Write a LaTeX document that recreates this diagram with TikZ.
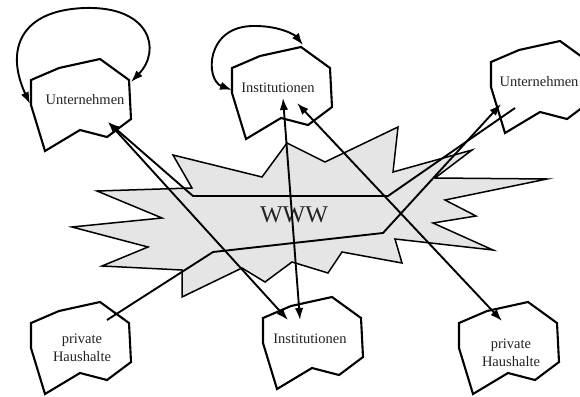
\documentclass[tikz,border=0pt]{standalone}
\usepackage{fontspec}
\setmainfont{Liberation Serif}
\usetikzlibrary{arrows.meta,calc}
\definecolor{txtgray}{HTML}{222222}
\tikzset{
  blobline/.style={line width=2.1pt},
  burstline/.style={line width=1.5pt, fill=black!10},
  link/.style={line width=1.9pt},
  tipend/.style={-{Latex[length=12pt,width=8.5pt]}},
  tipboth/.style={{Latex[length=12pt,width=8.5pt]}-{Latex[length=12pt,width=8.5pt]}},
  lbl/.style={text=txtgray, font=\fontsize{14.5}{18}\selectfont, align=center},
  blob/.pic={\draw[blobline] (0,0) -- (0,25) -- (14,71) -- (49,50) -- (76,57)
     -- (100,39) -- (98,0) -- (69,-21) -- (28,-12) -- cycle;}
}

\begin{document}
\begin{tikzpicture}[x=1pt,y=-1pt]
  \clip (0,0) rectangle (580,396);

  % the net in the middle
  \draw[burstline] (173,155) -- (262,177) -- (287,143) -- (325,162) -- (398,127)
    -- (393,172) -- (472,150) -- (435,178) -- (547,179) -- (445,200) -- (476,216)
    -- (433,223) -- (493,250) -- (395,239) -- (402,263) -- (342,252) -- (328,273)
    -- (292,262) -- (265,282) -- (242,268) -- (182,297) -- (182,270) -- (102,266)
    -- (148,247) -- (72,227) -- (162,218) -- (97,191) -- (192,188) -- cycle;
  \node[text=txtgray, font=\fontsize{24}{28}\selectfont] (www) at (294,215) {WWW};

  % the six actors
  \pic at (31,80) {blob};
  \pic at (232,68) {blob};
  \pic at (491,62) {blob};
  \pic at (31,323) {blob};
  \pic at (263,318) {blob};
  \pic at (459,323) {blob};
  \node[lbl] (untL) at (85,100) {Unternehmen};
  \node[lbl] (instT) at (278,88) {Institutionen};
  \node[lbl] (untR) at (539,82) {Unternehmen};
  \node[lbl] (hhL) at (82,348) {private\\Haushalte};
  \node[lbl] (instB) at (310,339) {Institutionen};
  \node[lbl] (hhR) at (511,353) {private\\Haushalte};

  % ends and bends of the links
  \coordinate (untLtip) at (108,122);
  \coordinate (untLa) at (30,104);
  \coordinate (untLb) at (131,82);
  \coordinate (instTa) at (283,98);
  \coordinate (instTb) at (297,103);
  \coordinate (instTc) at (232,90);
  \coordinate (instTd) at (303,45);
  \coordinate (untRtip) at (501,104);
  \coordinate (untRend) at (515,108);
  \coordinate (hhLend) at (107,320);
  \coordinate (instBa) at (288,320);
  \coordinate (instBb) at (300,320);
  \coordinate (hhRtip) at (502,321);
  \coordinate (bendA1) at (193,196);
  \coordinate (bendA2) at (388,196);
  \coordinate (bendC1) at (213,252);
  \coordinate (bendC2) at (383,233);

  % loops
  \draw[link,tipboth] (untLa) .. controls (5,50) and (20,10) .. (85,8)
    .. controls (150,6) and (162,50) .. (untLb);
  \draw[link,tipboth] (instTc) .. controls (205,80) and (205,25) .. (255,26)
    .. controls (280,26) and (295,35) .. (instTd);

  % links through the net
  \draw[link,tipend] (untRend) -- (bendA2) -- (bendA1) -- (untLtip);
  \draw[link,tipboth] (instBa) -- (untLtip);
  \draw[link,tipend] (hhLend) -- (bendC1) -- (bendC2) -- (untRtip);
  \draw[link,tipboth] (instTa) -- (instBb);
  \draw[link,tipboth] (instTb) -- (hhRtip);
\end{tikzpicture}
\end{document}
